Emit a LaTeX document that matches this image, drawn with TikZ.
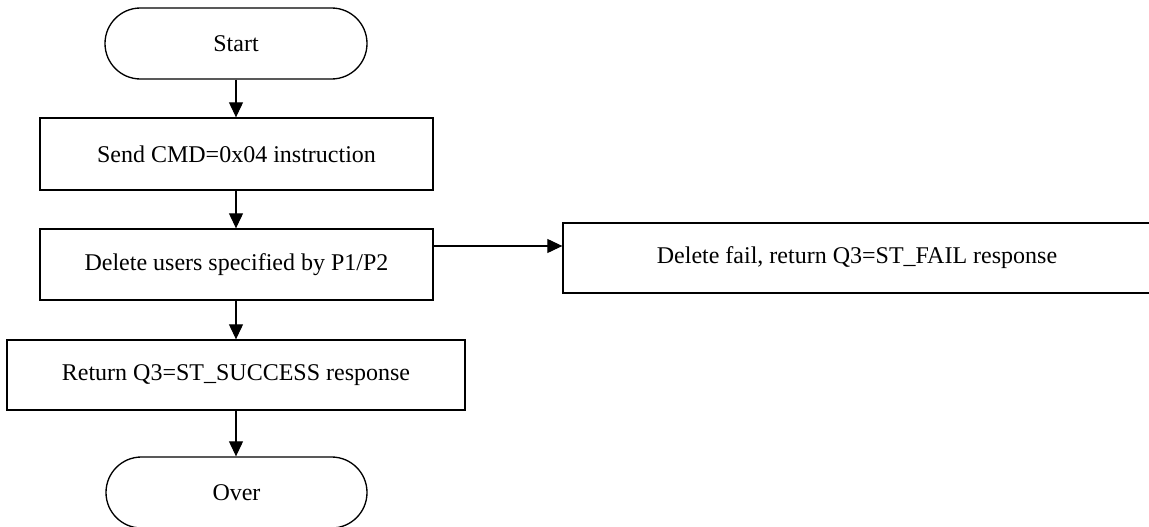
\documentclass[tikz,border=0pt]{standalone}
\usepackage{fontspec}
\setmainfont{Liberation Serif}
\usetikzlibrary{arrows.meta}
\begin{document}
\begin{tikzpicture}[x=0.75pt,y=-0.75pt,
  every node/.style={font=\fontsize{18pt}{21pt}\selectfont, inner sep=0pt},
  procbox/.style={draw, line width=1pt, rectangle},
  termbox/.style={draw, line width=1pt, rectangle, rounded corners=26.6pt},
  flow/.style={draw, line width=0.8pt, -{Triangle[length=11.25pt,width=10.5pt]}}]
\useasboundingbox (0,0) rectangle (1149,527);
\clip (0,0) rectangle (1149,527);
\node[termbox, minimum width=196.5pt, minimum height=53.25pt] (start) at (236,43.5) {Start};
\node[procbox, minimum width=294.75pt, minimum height=54pt] (send) at (236.5,154) {Send CMD=0x04 instruction};
\node[procbox, minimum width=294.75pt, minimum height=53.25pt] (del) at (236.5,264.5) {Delete users specified by P1/P2};
\node[procbox, minimum width=343.5pt, minimum height=52.5pt] (ret) at (236,375) {Return Q3=ST\_SUCCESS response};
\node[termbox, minimum width=195.75pt, minimum height=53.25pt] (over) at (236.5,492.5) {Over};
\node[procbox, minimum width=441pt, minimum height=52.5pt] (fail) at (857,258) {Delete fail, return Q3=ST\_FAIL response};
\coordinate (dx) at (236,0);
\draw[flow] (start.south -| dx) -- (send.north -| dx);
\draw[flow] (send.south -| dx) -- (del.north -| dx);
\draw[flow] (del.south -| dx) -- (ret.north -| dx);
\draw[flow] (ret.south -| dx) -- (over.north -| dx);
\coordinate (hy) at (0,246);
\draw[flow] (del.east |- hy) -- (fail.west |- hy);
\end{tikzpicture}
\end{document}
